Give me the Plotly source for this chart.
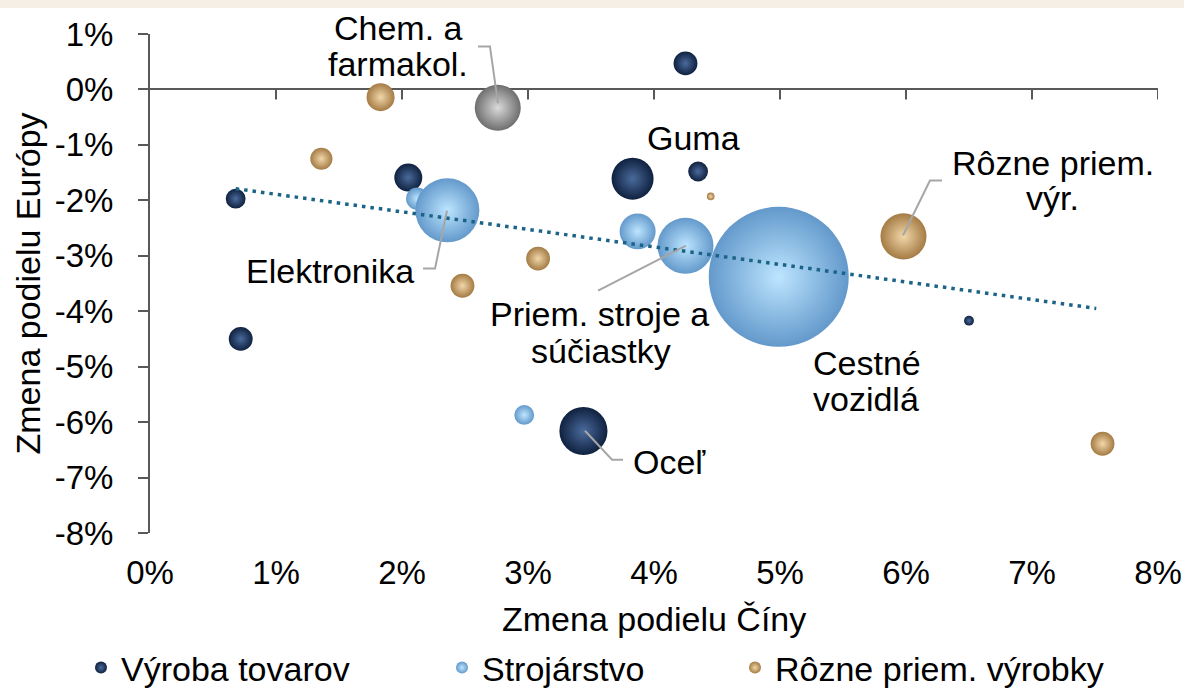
import plotly.graph_objects as go

# ---------------- data (percentage points) ----------------
vyroba_x = [4.25, 2.05, 0.68, 0.72, 3.83, 4.35, 3.44, 6.50]
vyroba_y = [0.47, -1.59, -1.97, -4.50, -1.61, -1.48, -6.16, -4.17]
vyroba_w = [29, 40, 20, 29, 90, 20, 118, 5]

stroj_x = [2.12, 2.36, 3.87, 4.25, 4.99, 2.97]
stroj_y = [-1.97, -2.18, -2.56, -2.82, -3.38, -5.87]
stroj_w = [25, 209, 66, 160, 1000, 20]

rozne_x = [1.83, 1.36, 2.48, 3.08, 4.45, 5.98, 7.56]
rozne_y = [-0.14, -1.25, -3.54, -3.05, -1.93, -2.65, -6.39]
rozne_w = [40, 25, 29, 29, 3, 108, 29]

chem_x = [2.76]
chem_y = [-0.33]
chem_w = [108]

trend_x = [0.68, 7.51]
trend_y = [-1.79, -3.95]

series_names = ["Výroba tovarov", "Strojárstvo", "Rôzne priem. výrobky"]

x_ticks = [0, 1, 2, 3, 4, 5, 6, 7, 8]
x_labels = ["0%", "1%", "2%", "3%", "4%", "5%", "6%", "7%", "8%"]
y_ticks = [1, 0, -1, -2, -3, -4, -5, -6, -7, -8]
y_labels = ["1%", "0%", "-1%", "-2%", "-3%", "-4%", "-5%", "-6%", "-7%", "-8%"]

x_title = "Zmena podielu Číny"
y_title = "Zmena podielu Európy"

FONT = "Arial, 'Liberation Sans', sans-serif"
SIZEREF = 0.102

# ---------------- figure ----------------
fig = go.Figure()


def bubbles(x, y, w, name, edge, center, legend, show=True):
    return go.Scatter(
        x=x, y=y, mode="markers", name=name, legend=legend, showlegend=show,
        cliponaxis=False,
        marker=dict(size=w, sizemode="area", sizeref=SIZEREF, color=edge,
                    gradient=dict(type="radial", color=center),
                    line=dict(width=0), opacity=1),
        hoverinfo="x+y+name",
    )


fig.add_trace(bubbles(vyroba_x, vyroba_y, vyroba_w, series_names[0], "#0F213F", "#4A6A9C", "legend"))
fig.add_trace(bubbles(stroj_x, stroj_y, stroj_w, series_names[1], "#6399CB", "#BDE5FF", "legend2"))
fig.add_trace(bubbles(rozne_x, rozne_y, rozne_w, series_names[2], "#A47B44", "#F2D7AA", "legend3"))
fig.add_trace(bubbles(chem_x, chem_y, chem_w, "Chem. a farmakol.", "#6E6E6E", "#DADADA", "legend", show=False))

fig.add_trace(go.Scatter(
    x=trend_x, y=trend_y, mode="lines", showlegend=False, hoverinfo="skip",
    line=dict(color="#1B6487", width=3.5, dash="3.5px,5px"),
))

# ---------------- labels ----------------
lbl_font = dict(family=FONT, size=34, color="#000000")
labels = [
    ("farmakol.", 1.97, 0.45),
    ("Guma", 4.31, -0.87),
    ("Rôzne priem.", 7.165, -1.33), ("výr.", 7.16, -1.96),
    ("Elektronika", 1.43, -3.27),
    ("Priem. stroje a", 3.57, -4.05), ("súčiastky", 3.58, -4.72),
    ("Cestné", 5.69, -4.93), ("vozidlá", 5.68, -5.58),
    ("Oceľ", 4.12, -6.72),
]
annotations = []
for t, ax, ay in labels:
    annotations.append(dict(text=t, x=ax, y=ay, xref="x", yref="y", showarrow=False,
                            font=lbl_font, xanchor="center", yanchor="middle"))
# top label line lies above the axis range -> paper coordinates
annotations.append(dict(text="Chem. a", x=1.97 / 8, y=1.012, xref="paper", yref="paper",
                        showarrow=False, font=lbl_font, xanchor="center", yanchor="middle"))

annotations.append(dict(text=x_title, x=0.5, y=-0.172, xref="paper", yref="paper",
                        showarrow=False, font=dict(family=FONT, size=34, color="#000000"),
                        xanchor="center", yanchor="middle"))
annotations.append(dict(text=y_title, x=-0.122, y=0.5, xref="paper", yref="paper",
                        showarrow=False, textangle=-90,
                        font=dict(family=FONT, size=34, color="#000000"),
                        xanchor="center", yanchor="middle"))

leaders = [
    [(2.603, 0.776), (2.698, 0.776), (2.762, -0.253)],
    [(6.286, -1.643), (6.190, -1.643), (5.976, -2.635)],
    [(2.167, -3.231), (2.262, -3.231), (2.357, -2.184)],
    [(3.556, -3.628), (4.254, -2.816)],
    [(3.452, -6.155), (3.667, -6.679), (3.754, -6.679)],
]
shapes = []
# beige band at the very top
shapes.append(dict(type="rect", xref="paper", yref="paper", x0=-0.2, x1=1.1, y0=1.052, y1=1.2,
                   fillcolor="#F6EFE5", line=dict(width=0), layer="below"))
for pts in leaders:
    path = "M " + " L ".join(f"{px},{py}" for px, py in pts)
    shapes.append(dict(type="path", path=path, xref="x", yref="y",
                       line=dict(color="#A6A6A6", width=2)))
# x tick marks along the zero line
for v in x_ticks[1:]:
    shapes.append(dict(type="line", xref="x", yref="y", x0=v, x1=v,
                       ysizemode="pixel", yanchor=0, y0=0, y1=-10,
                       line=dict(color="#595959", width=2)))

leg_common = dict(orientation="h", xref="container", yref="container", y=1 - 668 / 692,
                  yanchor="middle", xanchor="left", itemsizing="constant",
                  font=dict(family=FONT, size=34, color="#000000"),
                  bgcolor="rgba(0,0,0,0)", borderwidth=0)

fig.update_layout(
    width=1184, height=692,
    margin=dict(l=150, r=26, t=34, b=159, autoexpand=False),
    paper_bgcolor="white", plot_bgcolor="white",
    font=dict(family=FONT, color="#000000"),
    xaxis=dict(range=[0, 8], showline=False, zeroline=False, showgrid=False,
               tickvals=x_ticks, ticktext=x_labels, ticks="",
               tickfont=dict(family=FONT, size=33, color="#000000"),
               ticklabelstandoff=17, fixedrange=True, automargin=False),
    yaxis=dict(range=[-8, 1], showline=True, linecolor="#595959", linewidth=2,
               ticks="outside", ticklen=10, tickwidth=2, tickcolor="#595959",
               zeroline=True, zerolinecolor="#595959", zerolinewidth=2,
               showgrid=False, tickvals=y_ticks, ticktext=y_labels,
               tickfont=dict(family=FONT, size=33, color="#000000"),
               ticklabelstandoff=18, fixedrange=True, automargin=False),
    legend=dict(leg_common, x=81 / 1184),
    legend2=dict(leg_common, x=442 / 1184),
    legend3=dict(leg_common, x=735 / 1184),
    annotations=annotations,
    shapes=shapes,
    showlegend=True,
)

fig.write_html("out.html", config={"displayModeBar": False},
               post_script="document.body.style.margin='0px';document.body.style.padding='0px';")
